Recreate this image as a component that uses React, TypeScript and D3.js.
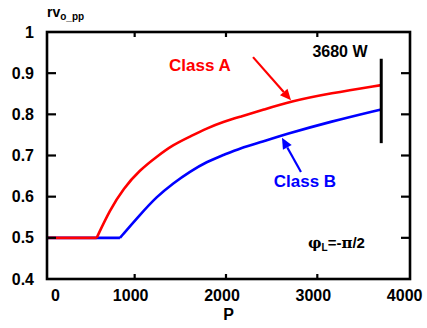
import React, { useEffect, useRef } from 'react'
import * as d3 from 'd3';

// P (W) vs rv_o_pp
const classA_P = [0, 584, 730, 876, 1058, 1240, 1420, 1606, 1789, 1971, 2154, 2409, 2701, 3139, 3700];
const classA_V = [0.5, 0.5, 0.568, 0.62, 0.665, 0.697, 0.726, 0.746, 0.766, 0.782, 0.794, 0.811, 0.831, 0.851, 0.871];
const classB_P = [0, 839, 1058, 1241, 1423, 1606, 1789, 1971, 2154, 2409, 2627, 3139, 3700];
const classB_V = [0.5, 0.5, 0.556, 0.6, 0.633, 0.661, 0.685, 0.701, 0.718, 0.734, 0.75, 0.782, 0.812];

const xTicks = [0, 1000, 2000, 3000, 4000];
const yTicks = [0.4, 0.5, 0.6, 0.7, 0.8, 0.9, 1];
const limitP = 3700;
const limitRange = [0.73, 0.935];

const FONT = "'Liberation Sans', Arial, sans-serif";

const App = () => {
    const ref = useRef(null);

    useEffect(() => {
        const margin = { top: 32, right: 17, bottom: 49, left: 47 },
            width = 427 - margin.left - margin.right,
            height = 328 - margin.top - margin.bottom;

        const x = d3.scaleLinear().domain([40, 4015]).range([0, width]);
        const y = d3.scaleLinear().domain([0.4, 1]).range([height, 0]);

        const root = d3.select(ref.current);
        root.selectAll('*').remove();

        const svg = root.append('g')
            .attr('transform', `translate(${margin.left},${margin.top})`);

        // lines: flat part straight, rising part smoothed
        const series = [
            { p: classB_P, v: classB_V, color: '#0000ff' },
            { p: classA_P, v: classA_V, color: '#ff0000' },
        ];
        series.forEach(s => {
            const pts = s.p.map((p, i) => [x(Math.max(p, 40)), y(s.v[i])] as [number, number]);
            const flat = d3.line()(pts.slice(0, 2)) || '';
            const rise = d3.line().curve(d3.curveBasis)(pts.slice(1)) || '';
            svg.append('path')
                .attr('d', flat + rise)
                .attr('fill', 'none')
                .attr('stroke', s.color)
                .attr('stroke-width', 2.6)
                .attr('stroke-linejoin', 'round');
        });

        // frame
        svg.append('rect')
            .attr('width', width).attr('height', height)
            .attr('fill', 'none').attr('stroke', '#000').attr('stroke-width', 2.6);

        // x ticks (inner, top and bottom)
        const innerX = xTicks.filter(t => t > 0 && t < 4000);
        innerX.forEach(t => {
            svg.append('line').attr('x1', x(t)).attr('x2', x(t)).attr('y1', height).attr('y2', height - 5)
                .attr('stroke', '#000').attr('stroke-width', 2.2);
            svg.append('line').attr('x1', x(t)).attr('x2', x(t)).attr('y1', 0).attr('y2', 5)
                .attr('stroke', '#000').attr('stroke-width', 2.2);
        });
        // y ticks (inner, left and right)
        const innerY = yTicks.filter(t => t > 0.4 && t < 1);
        innerY.forEach(t => {
            svg.append('line').attr('x1', 0).attr('x2', 9).attr('y1', y(t)).attr('y2', y(t))
                .attr('stroke', '#000').attr('stroke-width', 2.2);
            svg.append('line').attr('x1', width).attr('x2', width - 9).attr('y1', y(t)).attr('y2', y(t))
                .attr('stroke', '#000').attr('stroke-width', 2.2);
        });

        // tick labels
        svg.selectAll('.xlab').data(xTicks).enter().append('text')
            .attr('x', d => x(d) + (d === 0 ? 12 : -4))
            .attr('y', height + 22)
            .attr('text-anchor', 'middle')
            .style('font-family', FONT).style('font-size', '16px').style('font-weight', 'bold')
            .text(d => d);

        svg.selectAll('.ylab').data(yTicks).enter().append('text')
            .attr('x', -13)
            .attr('y', d => y(d) + 5.5)
            .attr('text-anchor', 'end')
            .style('font-family', FONT).style('font-size', '16px').style('font-weight', 'bold')
            .text(d => d);

        // axis titles
        svg.append('text')
            .attr('x', width / 2).attr('y', height + 41)
            .attr('text-anchor', 'middle')
            .style('font-family', FONT).style('font-size', '16px').style('font-weight', 'bold')
            .text('P');

        const yt = svg.append('text')
            .attr('x', 0).attr('y', -15)
            .style('font-family', FONT).style('font-weight', 'bold').style('font-size', '14px');
        yt.append('tspan').text('rv');
        yt.append('tspan').attr('dy', 3).style('font-size', '10px').text('o_pp');

        // 3680 W limit
        svg.append('line')
            .attr('x1', x(limitP)).attr('x2', x(limitP))
            .attr('y1', y(limitRange[1])).attr('y2', y(limitRange[0]))
            .attr('stroke', '#000').attr('stroke-width', 3);
        svg.append('text')
            .attr('x', x(3248)).attr('y', y(0.939))
            .attr('text-anchor', 'middle')
            .style('font-family', FONT).style('font-size', '16px').style('font-weight', 'bold')
            .text('3680 W');

        // arrow: shaft plus filled head at the tip
        const arrow = (p0: number, v0: number, p1: number, v1: number, color: string) => {
            const x0 = x(p0), y0 = y(v0), x1 = x(p1), y1 = y(v1);
            const a = Math.atan2(y1 - y0, x1 - x0);
            const len = 11, half = 5;
            const bx = x1 - len * Math.cos(a), by = y1 - len * Math.sin(a);
            svg.append('line')
                .attr('x1', x0).attr('y1', y0).attr('x2', bx).attr('y2', by)
                .attr('stroke', color).attr('stroke-width', 2.2);
            svg.append('path')
                .attr('d', `M${x1},${y1}L${bx + half * Math.sin(a)},${by - half * Math.cos(a)}L${bx - half * Math.sin(a)},${by + half * Math.cos(a)}Z`)
                .attr('fill', color);
        };

        // class labels + arrows
        svg.append('text')
            .attr('x', x(1715)).attr('y', y(0.905))
            .attr('text-anchor', 'middle').attr('fill', '#ff0000')
            .style('font-family', FONT).style('font-size', '17px').style('font-weight', 'bold')
            .text('Class A');
        arrow(2296, 0.939, 2712, 0.834, '#ff0000');

        svg.append('text')
            .attr('x', x(2865)).attr('y', y(0.624))
            .attr('text-anchor', 'middle').attr('fill', '#0000ff')
            .style('font-family', FONT).style('font-size', '17px').style('font-weight', 'bold')
            .text('Class B');
        arrow(2821, 0.66, 2613, 0.743, '#0000ff');

        // phase note
        const ph = svg.append('text')
            .attr('x', x(2898)).attr('y', y(0.476))
            .style('font-family', FONT).style('font-size', '15px').style('font-weight', 'bold');
        ph.append('tspan').style('font-family', "'DejaVu Serif', serif").text('φ');
        ph.append('tspan').attr('dy', 3).style('font-size', '10px').text('L');
        ph.append('tspan').attr('dy', -3).text('=-');
        ph.append('tspan').style('font-family', "'DejaVu Serif', serif").text('π');
        ph.append('tspan').text('/2');
    }, []);

    return (
        <svg ref={ref} width={427} height={328}
            style={{ position: 'absolute', left: 0, top: 0, background: '#fff' }} />
    )
}

export default App
